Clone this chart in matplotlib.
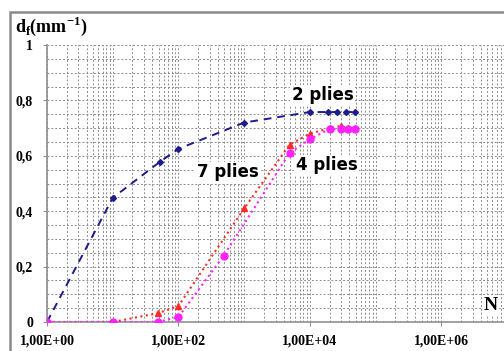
import matplotlib
matplotlib.use('Agg')
import matplotlib.pyplot as plt
from matplotlib.patches import Rectangle
from matplotlib.ticker import LogLocator, MultipleLocator, FixedLocator
import numpy as np

# values
n_2 = [1, 10, 52, 100, 1000, 10000, 18700, 26000, 36000, 48000]
d_2 = [0.0, 0.448, 0.578, 0.625, 0.72, 0.758, 0.758, 0.758, 0.758, 0.758]

n_7 = [1, 10, 49, 100, 1000, 4900, 10000, 20000, 30000, 38000, 48000]
d_7 = [0.0, 0.0, 0.032, 0.058, 0.41, 0.64, 0.68, 0.70, 0.708, 0.70, 0.70]

n_4 = [1, 10, 49, 100, 490, 4900, 10000, 20000, 30000, 38000, 48000]
d_4 = [0.0, 0.0, 0.0, 0.018, 0.24, 0.61, 0.66, 0.697, 0.697, 0.697, 0.697]

x_ticks = [1, 1e2, 1e4, 1e6]
x_labels = ['1,00E+00', '1,00E+02', '1,00E+04', '1,00E+06']
y_ticks = [0, 0.2, 0.4, 0.6, 0.8, 1]
y_labels = ['0', '0,2', '0,4', '0,6', '0,8', '1']

serif = 'Liberation Serif'

fig = plt.figure(figsize=(5.04, 3.51), dpi=100)
ax = fig.add_axes([47/504, 1 - 322/351, (504 - 47)/504, (322 - 45)/351])

# outer frame
fig.patches.append(Rectangle((10/504, -0.05), 1.0, 1 - 12/351 + 0.05,
                             transform=fig.transFigure, fill=False,
                             edgecolor='#8a8a8a', linewidth=1.8))

ax.plot(n_2, d_2, linestyle=(0, (4, 3)), color='#1c1c8c', marker='D',
        markersize=3, linewidth=1.4, zorder=3)
ax.plot(n_7, d_7, linestyle=':', color='#ff2a2a', marker='^',
        markersize=5, linewidth=1.5, zorder=4)
ax.plot(n_4, d_4, linestyle=':', color='#ff22ff', marker='o',
        markersize=5, linewidth=1.5, zorder=5)

ax.set_xscale('log')
ax.set_xlim(1, 9e6)
ax.set_ylim(0, 1)

ax.xaxis.set_major_locator(FixedLocator(x_ticks))
ax.set_xticklabels(x_labels)
ax.xaxis.set_minor_locator(LogLocator(base=10, subs=np.arange(1, 10), numticks=20))
ax.xaxis.set_minor_formatter(plt.NullFormatter())
ax.yaxis.set_major_locator(FixedLocator(y_ticks))
ax.set_yticklabels(y_labels)
ax.yaxis.set_minor_locator(MultipleLocator(0.05))

ax.grid(True, which='both', axis='both', linestyle=(0, (2, 2)),
        color='#8c8c8c', linewidth=0.7)

for s in ['top', 'right']:
    ax.spines[s].set_visible(False)
for s in ['left', 'bottom']:
    ax.spines[s].set_color('#909090')
    ax.spines[s].set_linewidth(1.2)

ax.tick_params(which='major', length=3, color='#909090')
ax.tick_params(which='minor', length=0)
ax.tick_params(axis='x', pad=6)
ax.tick_params(axis='y', pad=7)
for lab in ax.get_xticklabels() + ax.get_yticklabels():
    lab.set_fontfamily(serif)
    lab.set_fontweight('bold')
    lab.set_fontsize(10)

box = dict(facecolor='white', edgecolor='none', pad=1)
ax.text(5.3e3, 0.82, '2 plies', fontsize=12, fontweight='bold', ha='left', va='center', bbox=box, zorder=6)
ax.text(1.9e2, 0.54, '7 plies', fontsize=12, fontweight='bold', ha='left', va='center', bbox=box, zorder=6)
ax.text(1.8e4, 0.565, '4 plies', fontsize=12, fontweight='bold', ha='center', va='center', bbox=box, zorder=6)
ax.text(0.955, 0.03, 'N', transform=ax.transAxes, fontsize=14, fontweight='bold',
        family=serif, ha='left', va='bottom', bbox=box, zorder=6)

fig.text(15/504, 1 - 26/351, r'd$_\mathregular{f}$(mm$^\mathregular{-1}$)',
         fontsize=13, fontweight='bold', family=serif, ha='left', va='center')

fig.savefig('out.png', dpi=100)
